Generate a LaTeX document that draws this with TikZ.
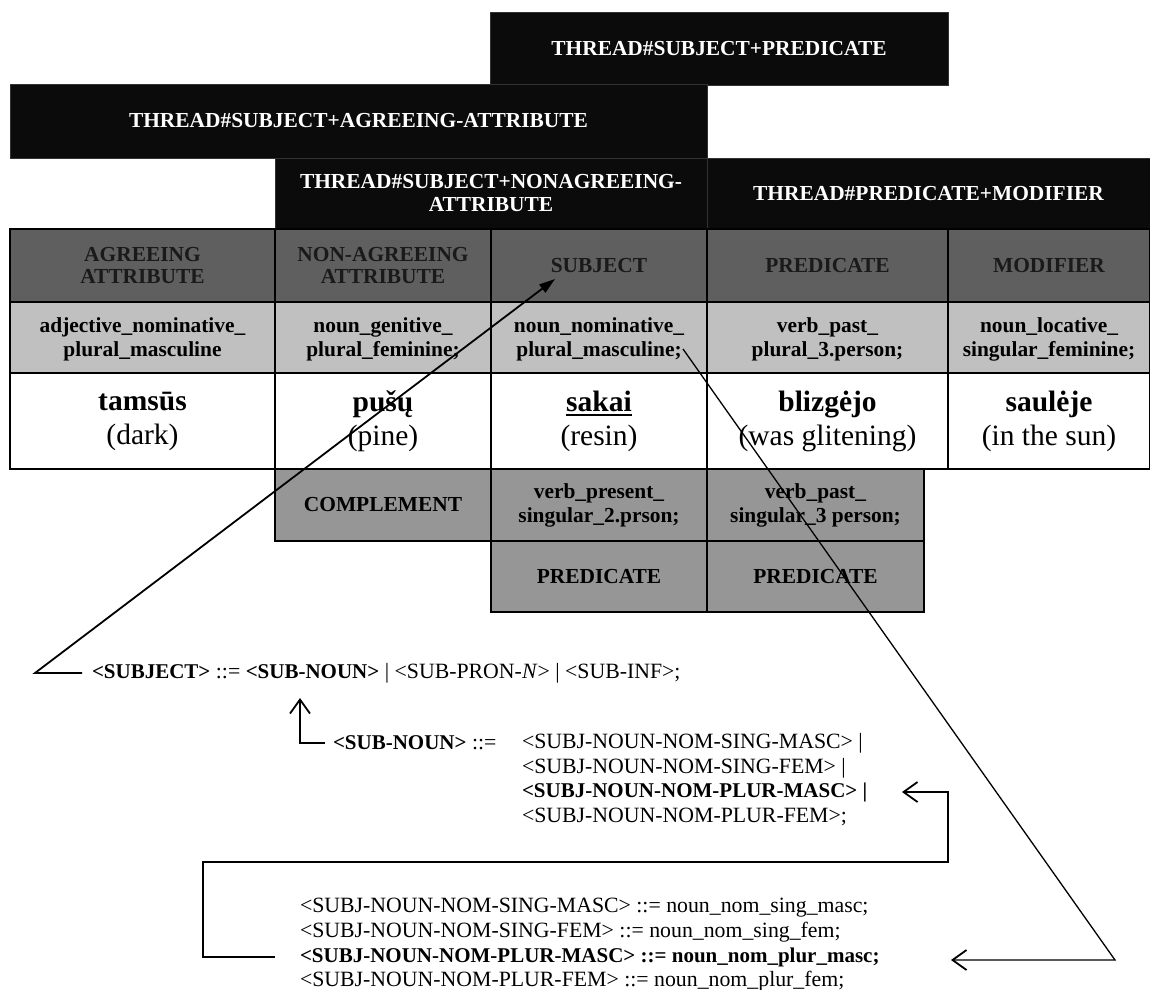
\documentclass[tikz,border=0pt]{standalone}
\usepackage{fontspec}
\setmainfont{Liberation Serif}
\usetikzlibrary{arrows.meta}

\definecolor{thrblack}{HTML}{0B0B0B}
\definecolor{hdrgray}{HTML}{5F5F5F}
\definecolor{ltgray}{HTML}{C0C0C0}
\definecolor{lowgray}{HTML}{969696}
\definecolor{hdrtext}{HTML}{1A1A1A}

\newcommand\tabfont{\fontsize{21.4}{25}\selectfont\bfseries}
\newcommand\bigfont{\fontsize{29.5}{34}\selectfont}
\newcommand\gramfont{\fontsize{21.8}{24}\selectfont}
% bold grammar symbols are set a little smaller than the plain ones
\newcommand\gb[1]{{\fontsize{21}{24}\selectfont\bfseries #1}}
% thick underline for the highlighted word
\newcommand\thickul[1]{\setbox0\hbox{#1}\rlap{\rule[-5pt]{\wd0}{2.4pt}}\box0}
% one table cell: name, x1, y1, x2, y2, style, text
\newcommand\tcell[7]{%
  \node[#6, minimum width={(#4)-(#2)}, minimum height={(#5)-(#3)}]
    (#1) at ({((#2)+(#4))/2},{((#3)+(#5))/2}) {#7};}

\tikzset{
  cellbase/.style={inner sep=0pt, outer sep=0pt, align=center},
  thread/.style={cellbase, fill=thrblack, draw=black!80, line width=0.8pt,
    text=white, font=\tabfont},
  hdr/.style={cellbase, fill=hdrgray, draw=black, line width=1.4pt,
    text=hdrtext, font=\tabfont},
  tag/.style={cellbase, fill=ltgray, draw=black, line width=1.4pt,
    text=black, font=\tabfont, text depth=0pt},
  word/.style={cellbase, fill=white, draw=black, line width=1.4pt,
    text=black, font=\bigfont},
  low/.style={cellbase, fill=lowgray, draw=black, line width=1.4pt,
    text=black, font=\tabfont},
  gram/.style={inner sep=0pt, outer sep=0pt, anchor=west, font=\gramfont},
  conn/.style={line width=1.8pt, line join=miter},
  arr/.style={conn, -{Straight Barb[length=14pt, width=20pt, line width=1.8pt]}},
  solidarr/.style={conn, -{Triangle[length=16pt, width=10pt]}},
  thinarr/.style={line width=1.3pt, -{Straight Barb[length=14pt, width=20pt, line width=1.8pt]}},
}

\begin{document}
\begin{tikzpicture}[x=1pt, y=-1pt]
\useasboundingbox[fill=white] (0,0) rectangle (1150,989);

% thread bars
\tcell{t1}{490}{12}{948}{85}{thread}{THREAD\#SUBJECT+PREDICATE}
\tcell{t2}{10}{84}{707}{158}{thread}{THREAD\#SUBJECT+AGREEING-ATTRIBUTE}
\tcell{t3}{275}{158}{707}{229}{thread}{THREAD\#SUBJECT+NONAGREEING-\\[-2pt]ATTRIBUTE}
\tcell{t4}{707}{158}{1150}{229}{thread}{THREAD\#PREDICATE+MODIFIER}

% sentence members
\tcell{hA}{10}{229}{275}{302}{hdr}{AGREEING\\[-3pt]ATTRIBUTE}
\tcell{hN}{275}{229}{491}{302}{hdr}{NON-AGREEING\\[-3pt]ATTRIBUTE}
\tcell{hS}{491}{229}{707}{302}{hdr}{SUBJECT}
\tcell{hP}{707}{229}{948}{302}{hdr}{PREDICATE}
\tcell{hM}{948}{229}{1150}{302}{hdr}{MODIFIER}

% morphological tags
\tcell{mA}{10}{302}{275}{373}{tag}{adjective\_nominative\_\\[-1pt]plural\_masculine}
\tcell{mN}{275}{302}{491}{373}{tag}{noun\_genitive\_\\[-1pt]plural\_feminine;}
\tcell{mS}{491}{302}{707}{373}{tag}{noun\_nominative\_\\[-1pt]plural\_masculine;}
\tcell{mP}{707}{302}{948}{373}{tag}{verb\_past\_\\[-1pt]plural\_3.person;}
\tcell{mM}{948}{302}{1150}{373}{tag}{noun\_locative\_\\[-1pt]singular\_feminine;}

% words
\tcell{wA}{10}{373}{275}{469}{word}{\textbf{tamsūs}\\(dark)}
\tcell{wN}{275}{373}{491}{469}{word}{\textbf{pušų}\\(pine)}
\tcell{wS}{491}{373}{707}{469}{word}{\textbf{\thickul{sakai}}\\(resin)}
\tcell{wP}{707}{373}{948}{469}{word}{\textbf{blizgėjo}\\(was glitening)}
\tcell{wM}{948}{373}{1150}{469}{word}{\textbf{saulėje}\\(in the sun)}

% alternative readings
\tcell{lC}{275}{469}{491}{541}{low}{COMPLEMENT}
\tcell{lV1}{491}{469}{707}{541}{low}{verb\_present\_\\[-1pt]singular\_2.prson;}
\tcell{lV2}{707}{469}{924}{541}{low}{verb\_past\_\\[-1pt]singular\_3 person;}
\tcell{lP1}{491}{541}{707}{612}{low}{PREDICATE}
\tcell{lP2}{707}{541}{924}{612}{low}{PREDICATE}

% grammar rules
\node[gram] (g1) at (92,673) {\gb{<SUBJECT>} ::= \gb{<SUB-NOUN>} | <SUB-PRON-\textit{N}> | <SUB-INF>;};
\node[gram] (g2) at (333,743) {\gb{<SUB-NOUN>} ::=};
\node[gram] (r1) at (522,743) {<SUBJ-NOUN-NOM-SING-MASC> |};
\node[gram] (r2) at (522,768) {<SUBJ-NOUN-NOM-SING-FEM> |};
\node[gram] (r3) at (522,792) {\gb{<SUBJ-NOUN-NOM-PLUR-MASC> |}};
\node[gram] (r4) at (522,817) {<SUBJ-NOUN-NOM-PLUR-FEM>;};
\node[gram] (b1) at (300,908) {<SUBJ-NOUN-NOM-SING-MASC> ::= noun\_nom\_sing\_masc;};
\node[gram] (b2) at (300,932) {<SUBJ-NOUN-NOM-SING-FEM> ::= noun\_nom\_sing\_fem;};
\node[gram] (b3) at (300,957) {\gb{<SUBJ-NOUN-NOM-PLUR-MASC> ::= noun\_nom\_plur\_masc;}};
\node[gram] (b4) at (300,981) {<SUBJ-NOUN-NOM-PLUR-FEM> ::= noun\_nom\_plur\_fem;};

% connector bends and free ends
\coordinate (c1) at (35,673);
\coordinate (tipS) at (555,279);
\coordinate (c2) at (300,743);
\coordinate (tipU) at (300,698);
\coordinate (k1) at (203,862);
\coordinate (k2) at (948,862);
\coordinate (tipR) at (902,792);
\coordinate (s0) at (683,349);
\coordinate (d1) at (1115,960);
\coordinate (tipB) at (951,960);

% connectors
\draw[solidarr, shorten <=10pt] (g1.west) -- (c1) -- (tipS);
\draw[arr, shorten <=8pt] (g2.west) -- (c2) -- (tipU);
\draw[arr, shorten <=25pt] (b3.west) -| (k1) -- (k2) |- (tipR);
\draw[thinarr] (s0) -- (d1) -- (tipB);
\end{tikzpicture}
\end{document}
